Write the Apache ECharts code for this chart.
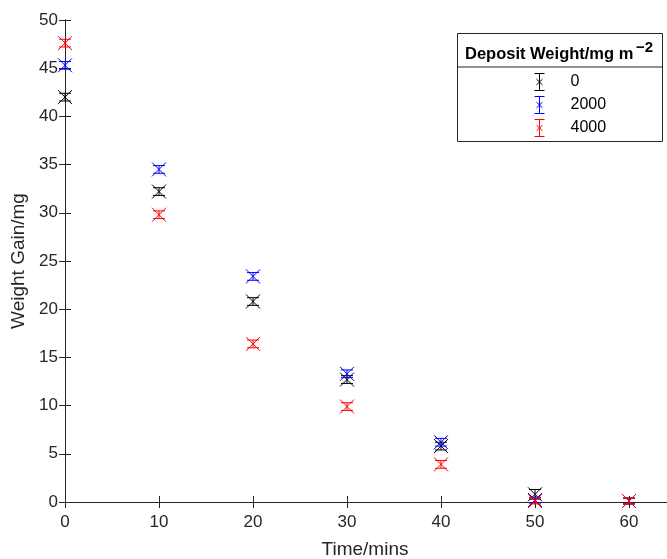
<!DOCTYPE html>
<html>
<head>
<meta charset="utf-8">
<script src="https://cdn.jsdelivr.net/npm/echarts@6/dist/echarts.min.js"></script>
<style>
html,body{margin:0;padding:0;background:#fff;}
#chart{width:667px;height:559px;}
</style>
</head>
<body>
<div id="chart"></div>
<script>
// ---- data ----
const times = [0, 10, 20, 30, 40, 50, 60];
const seriesNames = ['0', '2000', '4000'];
const gain0 = [42.0, 32.2, 20.8, 12.7, 5.8, 0.8, 0.1];
const gain2000 = [45.3, 34.5, 23.4, 13.3, 6.2, 0.2, 0.1];
const gain4000 = [47.6, 29.8, 16.4, 9.9, 3.9, 0.1, 0.1];
const err0 = [0.4, 0.4, 0.4, 0.4, 0.4, 0.5, 0.3];
const err2000 = [0.4, 0.4, 0.4, 0.4, 0.4, 0.3, 0.3];
const err4000 = [0.4, 0.4, 0.4, 0.4, 0.4, 0.3, 0.3];
const xTicks = [0, 10, 20, 30, 40, 50, 60];
const yTicks = [0, 5, 10, 15, 20, 25, 30, 35, 40, 45, 50];

const colors = ['#000000', '#0000ff', '#ff0000'];
const FONT = '"Liberation Sans", Arial, Helvetica, sans-serif';
const AX = '#262626';

function build(vals, errs) {
  return times.map((t, i) => [t, vals[i], errs[i]]);
}

function renderErr(params, api) {
  const x = api.value(0), y = api.value(1), e = api.value(2);
  const p = api.coord([x, y]);
  const t = api.coord([x, y + e]);
  const b = api.coord([x, y - e]);
  const col = api.visual('color');
  const m = 7, c = 6;
  const st = {stroke: col, lineWidth: 1, fill: null};
  return {
    type: 'group',
    children: [
      {type: 'line', shape: {x1: p[0] - m, y1: p[1] - m, x2: p[0] + m, y2: p[1] + m}, style: st},
      {type: 'line', shape: {x1: p[0] - m, y1: p[1] + m, x2: p[0] + m, y2: p[1] - m}, style: st},
      {type: 'line', shape: {x1: t[0], y1: t[1], x2: b[0], y2: b[1]}, style: st},
      {type: 'line', shape: {x1: t[0] - c, y1: t[1], x2: t[0] + c, y2: t[1]}, style: st},
      {type: 'line', shape: {x1: b[0] - c, y1: b[1], x2: b[0] + c, y2: b[1]}, style: st}
    ]
  };
}

const iconPath = 'path://M0,0 L10,0 M5,0 L5,18 M0,18 L10,18 M2,6 L8,12 M8,6 L2,12';

const chart = echarts.init(document.getElementById('chart'), null, {renderer: 'canvas'});
const datasets = [build(gain0, err0), build(gain2000, err2000), build(gain4000, err4000)];

chart.setOption({
  animation: false,
  backgroundColor: '#ffffff',
  grid: {left: 65, top: 20, width: 658, bottom: 57, containLabel: false, outerBoundsMode: 'none'},
  xAxis: [{
    type: 'value', min: 0, max: 70, interval: 10, position: 'bottom',
    name: 'Time/mins', nameLocation: 'middle', nameGap: 38,
    nameTextStyle: {color: AX, fontFamily: FONT, fontSize: 19, padding: [0, 58, 0, 0]},
    axisLine: {show: true, lineStyle: {color: AX, width: 1}},
    axisTick: {show: true, inside: true, length: 6, lineStyle: {color: AX}},
    axisLabel: {color: AX, fontFamily: FONT, fontSize: 17, margin: 12,
      formatter: v => xTicks.indexOf(v) >= 0 ? String(v) : ''},
    splitLine: {show: false}
  }, {
    type: 'value', min: 0, max: 70, interval: 10, position: 'top',
    axisLine: {show: true, lineStyle: {color: AX, width: 1}},
    axisTick: {show: true, inside: true, length: 6, lineStyle: {color: AX}},
    axisLabel: {show: false},
    splitLine: {show: false}
  }],
  yAxis: [{
    type: 'value', min: 0, max: 50, interval: 5, position: 'left',
    name: 'Weight Gain/mg', nameLocation: 'middle', nameGap: 35, nameRotate: 90,
    nameTextStyle: {color: AX, fontFamily: FONT, fontSize: 19},
    axisLine: {show: true, lineStyle: {color: AX, width: 1}},
    axisTick: {show: true, inside: true, length: 6, lineStyle: {color: AX}},
    axisLabel: {color: AX, fontFamily: FONT, fontSize: 17, margin: 7,
      formatter: v => yTicks.indexOf(v) >= 0 ? String(v) : ''},
    splitLine: {show: false}
  }, {
    type: 'value', min: 0, max: 50, interval: 5, position: 'right',
    axisLine: {show: true, lineStyle: {color: AX, width: 1}},
    axisTick: {show: true, inside: true, length: 6, lineStyle: {color: AX}},
    axisLabel: {show: false},
    splitLine: {show: false}
  }],
  legend: {
    orient: 'vertical', left: 532, top: 71, itemGap: 1, z: 20, padding: 0,
    itemWidth: 10, itemHeight: 17, symbolKeepAspect: false,
    textStyle: {color: '#000', fontFamily: FONT, fontSize: 16, padding: [0, 0, 0, 21]},
    selectedMode: false,
    data: seriesNames.map((n, i) => ({
      name: n, icon: iconPath,
      itemStyle: {color: 'none', borderColor: colors[i], borderWidth: 1}
    }))
  },
  graphic: [
    {type: 'rect', left: 457, top: 33, z: 15,
      shape: {width: 205, height: 108},
      style: {fill: '#fff', stroke: AX, lineWidth: 1}},
    {type: 'line', z: 16, shape: {x1: 457, y1: 67, x2: 662, y2: 67},
      style: {stroke: AX, lineWidth: 1}},
    {type: 'text', left: 465, top: 46, z: 16,
      style: {text: 'Deposit Weight/mg m', fill: '#000', font: 'bold 16.5px "Liberation Sans", Arial, sans-serif'}},
    {type: 'text', left: 636, top: 40, z: 16,
      style: {text: '\u22122', fill: '#000', font: 'bold 15px "Liberation Sans", Arial, sans-serif'}}
  ],
  series: datasets.map((d, i) => ({
    name: seriesNames[i], type: 'custom', renderItem: renderErr,
    xAxisIndex: 0, yAxisIndex: 0, clip: false,
    itemStyle: {color: colors[i]},
    encode: {x: 0, y: 1},
    data: d, z: 10 + i
  }))
});
</script>
</body>
</html>
